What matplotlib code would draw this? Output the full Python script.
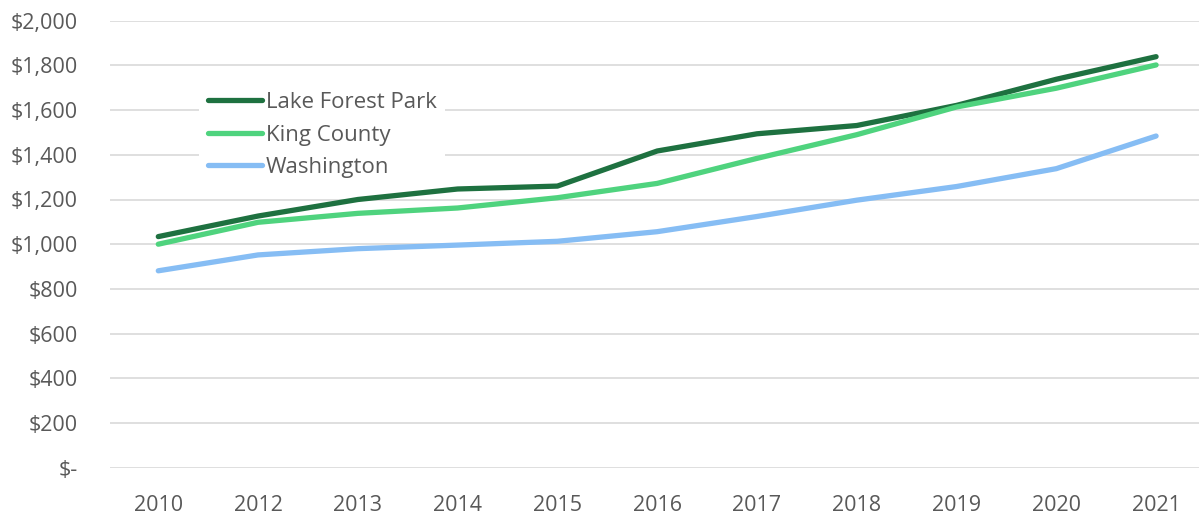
import matplotlib
matplotlib.use("Agg")
import matplotlib.pyplot as plt
from matplotlib.ticker import FuncFormatter

years = ["2010", "2012", "2013", "2014", "2015", "2016", "2017", "2018", "2019", "2020", "2021"]
lake_forest_park = [1034, 1126, 1200, 1247, 1260, 1417, 1494, 1531, 1621, 1738, 1839]
king_county = [1000, 1098, 1138, 1162, 1208, 1272, 1384, 1490, 1614, 1698, 1802]
washington = [881, 952, 980, 996, 1013, 1056, 1124, 1197, 1258, 1338, 1484]

plt.rcParams['font.family'] = ['Open Sans', 'DejaVu Sans']

fig = plt.figure(figsize=(11.99, 5.15), dpi=100)
ax = fig.add_axes([110/1199, (515-467.7)/515, 1 - 110/1199, (467.7-20.7)/515])

x = list(range(len(years)))
lw = 3.8
ax.plot(x, lake_forest_park, color="#1e7140", lw=lw, solid_capstyle='round', label="Lake Forest Park", zorder=3)
ax.plot(x, king_county, color="#4fd37e", lw=lw, solid_capstyle='round', label="King County", zorder=3)
ax.plot(x, washington, color="#86bdf4", lw=lw, solid_capstyle='round', label="Washington", zorder=3)

ax.set_ylim(0, 2000)
ax.set_xlim(-0.484, 10.43)
ax.set_yticks(range(0, 2001, 200))
ax.yaxis.set_major_formatter(FuncFormatter(lambda v, p: "$-" if v == 0 else f"${int(v):,}"))
ax.set_xticks(x)
ax.set_xticklabels(years)
ax.grid(axis='y', color="#d9d9d9", lw=1.2, zorder=0)
for s in ax.spines.values():
    s.set_visible(False)
ax.tick_params(axis='both', length=0, colors="#595959", labelsize=15.5)
ax.tick_params(axis='y', pad=23)
ax.tick_params(axis='x', pad=20)

leg = ax.legend(loc='upper left', bbox_to_anchor=(188/1199, 1 - 72/515), bbox_transform=fig.transFigure,
                frameon=True, fontsize=16, handlelength=2.44, handletextpad=0.15, labelspacing=0.52,
                borderpad=0.4)
leg.get_frame().set_facecolor('white')
leg.get_frame().set_edgecolor('none')
leg.get_frame().set_alpha(1)
for t in leg.get_texts():
    t.set_color("#595959")

fig.savefig("out.png", dpi=100)
